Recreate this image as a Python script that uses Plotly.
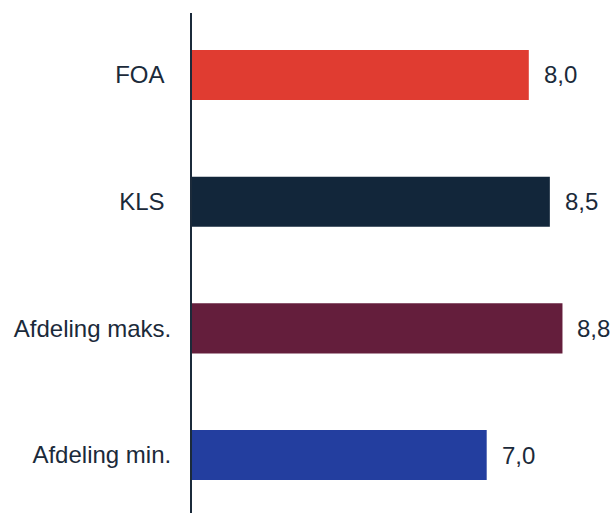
import plotly.graph_objects as go

categories = ["FOA", "KLS", "Afdeling maks.", "Afdeling min."]
tick_labels = ["FOA\u00a0", "KLS\u00a0", "Afdeling maks.", "Afdeling min."]
values = [8.0, 8.5, 8.8, 7.0]
value_labels = ["8,0", "8,5", "8,8", "7,0"]
colors = ["#e03c31", "#12263a", "#641e3c", "#233e9f"]

text_color = "#1b2a3a"
font_family = "Liberation Sans, Arial, sans-serif"

fig = go.Figure()
fig.add_trace(go.Bar(
    x=values,
    y=categories,
    orientation="h",
    marker=dict(color=colors, line=dict(width=0)),
    width=0.395,
    hoverinfo="skip",
))

for cat, val, lab in zip(categories, values, value_labels):
    fig.add_annotation(
        x=val, y=cat, text=lab, showarrow=False,
        xanchor="left", yanchor="middle", xshift=13,
        font=dict(size=24, color=text_color, family=font_family),
    )

fig.update_layout(
    width=613, height=513,
    margin=dict(l=192, r=0, t=13, b=0),
    paper_bgcolor="white", plot_bgcolor="white",
    showlegend=False,
    font=dict(family=font_family, size=24, color=text_color),
    xaxis=dict(range=[0, 10], visible=False, fixedrange=True),
    yaxis=dict(
        type="category",
        categoryorder="array", categoryarray=categories,
        tickvals=categories, ticktext=tick_labels,
        range=[3.457, -0.489],
        showline=True, linecolor="#1b2a3a", linewidth=2,
        showgrid=False, zeroline=False, ticks="",
        ticklabelstandoff=14,
        tickfont=dict(size=24, color=text_color, family=font_family),
        fixedrange=True,
    ),
)

fig.write_html(
    "out.html",
    config={"displayModeBar": False},
    post_script="document.body.style.margin='0';document.body.style.overflow='hidden';",
)
